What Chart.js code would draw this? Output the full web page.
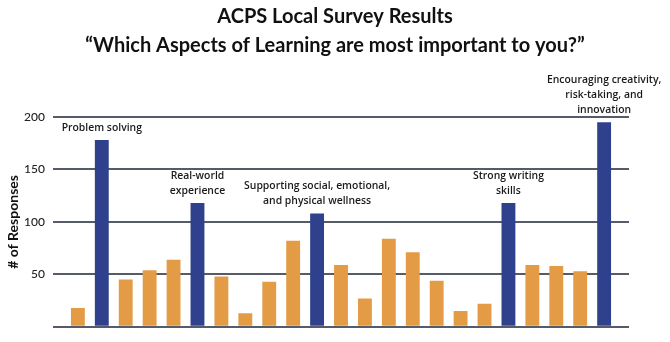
<!DOCTYPE html>
<html lang="en">
<head>
    <meta charset="UTF-8">
    <title>ACPS Local Survey Results</title>
    <script src="https://cdn.jsdelivr.net/npm/chart.js"></script>
    <style>
        body { margin: 0; background: #fff; }
        .wrap { width: 670px; height: 342px; }
    </style>
</head>
<body>
    <div class="wrap"><canvas id="surveyChart" width="670" height="342"></canvas></div>

    <script>
        // one bar per aspect, left to right
        const responses = [18, 178, 45, 54, 64, 118, 48, 13, 43, 82, 108, 59, 27, 84, 71, 44, 15, 22, 118, 59, 58, 53, 195];
        // top choices drawn in blue with a note above
        const topAspects = [1, 5, 10, 18, 22];
        const topLabels = [
            ['Problem solving'],
            ['Real-world', 'experience'],
            ['Supporting social, emotional,', 'and physical wellness'],
            ['Strong writing', 'skills'],
            ['Encouraging creativity,', 'risk-taking, and', 'innovation']
        ];
        const yTicks = [0, 50, 100, 150, 200];
        const titleLines = ['ACPS Local Survey Results', '\u201CWhich Aspects of Learning are most important to you?\u201D'];

        const orange = '#e39b46';
        const blue = '#2f408c';

        const titlePlugin = {
            id: 'titleLines',
            afterDraw(chart) {
                const ctx = chart.ctx;
                ctx.save();
                ctx.fillStyle = '#111';
                ctx.textAlign = 'center';
                ctx.textBaseline = 'middle';
                ctx.font = 'bold 20px Lato';
                ctx.fillText(titleLines[0], 335, 17);
                ctx.fillText(titleLines[1], 335, 46);
                ctx.restore();
            }
        };

        const notesPlugin = {
            id: 'notes',
            afterDatasetsDraw(chart) {
                const ctx = chart.ctx;
                const meta = chart.getDatasetMeta(0);
                ctx.save();
                ctx.fillStyle = '#1a1a1a';
                ctx.textAlign = 'center';
                ctx.textBaseline = 'middle';
                ctx.font = '600 10.4px "Open Sans"';
                topAspects.forEach((idx, n) => {
                    const bar = meta.data[idx];
                    const lines = topLabels[n];
                    lines.forEach((line, k) => {
                        const y = bar.y - 12 - (lines.length - 1 - k) * 15;
                        ctx.fillText(line, bar.x, y);
                    });
                });
                ctx.restore();
            }
        };

        new Chart(document.getElementById('surveyChart'), {
            type: 'bar',
            data: {
                datasets: [{
                    data: responses.map((v, i) => ({ x: i, y: v })),
                    backgroundColor: responses.map((_, i) => topAspects.includes(i) ? blue : orange),
                    barPercentage: 0.58,
                    categoryPercentage: 1
                }]
            },
            options: {
                responsive: false,
                animation: false,
                layout: { padding: { top: 117, right: 41, bottom: 9, left: 0 } },
                plugins: { legend: { display: false }, tooltip: { enabled: false } },
                scales: {
                    x: {
                        type: 'linear',
                        offset: false,
                        min: -1.04,
                        max: responses.length - 1 + 1.04,
                        display: false
                    },
                    y: {
                        min: yTicks[0],
                        max: yTicks[yTicks.length - 1],
                        afterBuildTicks(scale) { scale.ticks = yTicks.map(v => ({ value: v })); },
                        afterFit(scale) { scale.width = 53; },
                        border: { display: false },
                        grid: { color: '#555b68', lineWidth: 2, drawTicks: false },
                        ticks: {
                            padding: 8,
                            color: '#222',
                            font: { family: 'Lato', size: 12, weight: '500' },
                            callback: v => v === 0 ? '' : v
                        },
                        title: {
                            display: true,
                            text: '# of Responses',
                            color: '#111',
                            padding: { top: 5, bottom: 0 },
                            font: { family: 'Lato', size: 14, weight: 'bold' }
                        }
                    }
                }
            },
            plugins: [titlePlugin, notesPlugin]
        });
    </script>
</body>
</html>
